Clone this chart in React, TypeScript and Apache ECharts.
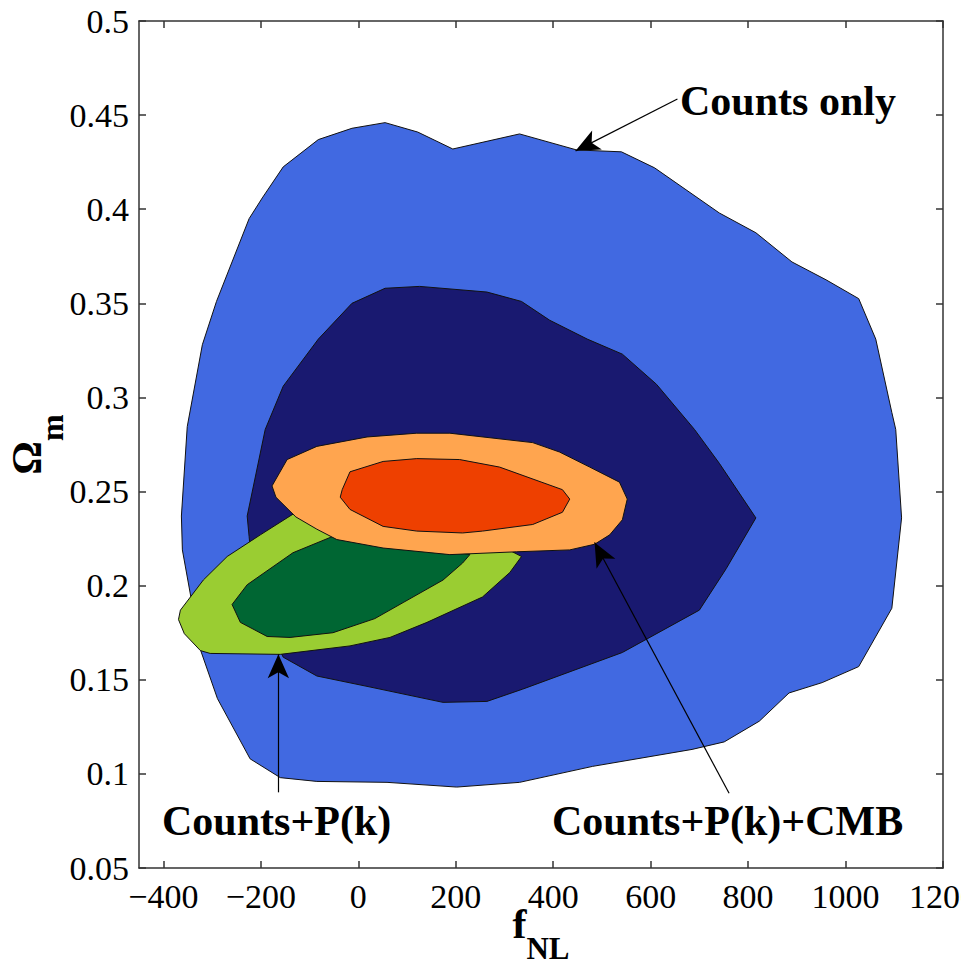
import React, { useEffect, useRef } from 'react';
import * as echarts from 'echarts';

// Axis tick values
const xTicks = [-400, -200, 0, 200, 400, 600, 800, 1000, 1200];
const yTicks = [0.05, 0.1, 0.15, 0.2, 0.25, 0.3, 0.35, 0.4, 0.45, 0.5];

// Contours [fNL, Omega_m]
const countsOnlyOuter = [
  [-197, 0.406], [-154, 0.4225], [-82, 0.437], [-13, 0.443], [55, 0.446], [122, 0.441], [194, 0.432],
  [331, 0.44], [448, 0.4315], [540, 0.4305], [608, 0.422], [741, 0.398], [816, 0.3875], [890, 0.372],
  [960, 0.3625], [1027, 0.3525], [1062, 0.331], [1095, 0.292], [1103, 0.283], [1115, 0.236], [1095, 0.188],
  [1027, 0.157], [952, 0.1485], [884, 0.143], [823, 0.128], [751, 0.117], [685, 0.113], [481, 0.104],
  [331, 0.0955], [202, 0.093], [59, 0.0955], [-85, 0.096], [-160, 0.098], [-222, 0.108], [-289, 0.14],
  [-324, 0.166], [-361, 0.219], [-363, 0.237], [-351, 0.2845], [-320, 0.328], [-291, 0.351], [-224, 0.395],
];
const countsOnlyInner = [
  [-191, 0.283], [-154, 0.306], [-82, 0.331], [-13, 0.35], [55, 0.358], [126, 0.359], [264, 0.356],
  [335, 0.351], [393, 0.341], [470, 0.331], [542, 0.323], [612, 0.307], [690, 0.283], [741, 0.265],
  [816, 0.236], [755, 0.209], [700, 0.187], [542, 0.1645], [337, 0.145], [264, 0.1385], [174, 0.138],
  [18, 0.1465], [-85, 0.152], [-154, 0.162], [-212, 0.193], [-224, 0.226], [-228, 0.237],
];
const pkOuter = [
  [-134, 0.238], [-201, 0.227], [-269, 0.2155], [-318, 0.203], [-365, 0.187], [-369, 0.182], [-357, 0.1745],
  [-324, 0.1655], [-304, 0.164], [-160, 0.1635], [-17, 0.168], [65, 0.1725], [141, 0.1805], [255, 0.194],
  [311, 0.207], [335, 0.2155], [249, 0.227], [85, 0.235],
];
const pkInner = [
  [-54, 0.226], [-134, 0.2175], [-228, 0.2005], [-259, 0.19], [-242, 0.1805], [-187, 0.173], [-140, 0.1725],
  [-52, 0.175], [34, 0.1825], [92, 0.191], [174, 0.203], [214, 0.212], [229, 0.2165], [126, 0.222],
];
const cmbOuter = [
  [-146, 0.267], [-85, 0.274], [18, 0.279], [120, 0.281], [188, 0.281], [358, 0.276], [413, 0.271],
  [475, 0.263], [536, 0.255], [552, 0.246], [542, 0.235], [516, 0.227], [485, 0.222], [434, 0.219],
  [325, 0.218], [188, 0.2165], [51, 0.22], [-44, 0.2245], [-85, 0.23], [-128, 0.2365], [-169, 0.247], [-177, 0.253],
];
const cmbInner = [
  [-33, 0.251], [-17, 0.2605], [51, 0.266], [120, 0.2675], [208, 0.267], [290, 0.263], [419, 0.251],
  [434, 0.246], [419, 0.239], [358, 0.2325], [255, 0.229], [214, 0.228], [120, 0.229], [51, 0.2315],
  [-17, 0.2405], [-37, 0.247],
];

// Annotation arrows: [from, to] in data coords
const arrows = [
  [[655, 0.4586], [446, 0.431]],
  [[-164, 0.0902], [-164, 0.1635]],
  [[761, 0.0897], [485, 0.2229]],
];

const FONT = '"Liberation Serif", "Times New Roman", serif';

function polygonSeries(name: string, pts: number[][], color: string) {
  return {
    name,
    type: 'custom',
    coordinateSystem: 'cartesian2d',
    xAxisIndex: 0,
    yAxisIndex: 0,
    silent: true,
    data: pts,
    encode: { x: 0, y: 1 },
    renderItem: (params: any, api: any) => {
      if (params.dataIndex !== 0) return null;
      return {
        type: 'polygon',
        shape: { points: pts.map((p) => api.coord(p)) },
        style: { fill: color, stroke: '#111', lineWidth: 1 },
      };
    },
  };
}

export default function App() {
  const ref = useRef<HTMLDivElement>(null);
  useEffect(() => {
    document.body.style.margin = '0';
    const chart = echarts.init(ref.current!, null, { renderer: 'svg' });
    const axisLine = { show: true, onZero: false, lineStyle: { color: '#333', width: 1.5 } };
    const tickStyle = { color: '#333', width: 1.5 };
    const xFmt = (v: number) => String(v).replace('-', '\u2212');
    const yFmt = (v: number) => String(parseFloat(Number(v).toFixed(2)));
    chart.setOption({
      animation: false,
      backgroundColor: '#fff',
      grid: { left: 139, top: 21, right: 18, bottom: 97, containLabel: false, outerBoundsMode: 'none' },
      xAxis: [
        {
          type: 'value', min: -450, max: 1200, position: 'bottom',
          axisLine, splitLine: { show: false },
          axisTick: { show: true, inside: true, length: 7, customValues: xTicks, lineStyle: tickStyle },
          axisLabel: { customValues: xTicks, formatter: xFmt, fontSize: 34, fontFamily: FONT, color: '#000', margin: 11, hideOverlap: false },
          name: '{f|f}{s|NL}', nameLocation: 'middle', nameGap: 35, nameMoveOverlap: false,
          nameTextStyle: {
            rich: {
              f: { fontSize: 42, fontWeight: 'bold', fontFamily: FONT, color: '#000', verticalAlign: 'top', lineHeight: 42 },
              s: { fontSize: 31, fontWeight: 'bold', fontFamily: FONT, color: '#000', verticalAlign: 'top', lineHeight: 31, padding: [30, 0, 0, 0] },
            },
          },
        },
        {
          type: 'value', min: -450, max: 1200, position: 'top',
          axisLine, splitLine: { show: false },
          axisTick: { show: true, inside: true, length: 7, customValues: xTicks, lineStyle: tickStyle },
          axisLabel: { show: false },
        },
      ],
      yAxis: [
        {
          type: 'value', min: 0.05, max: 0.5, position: 'left',
          axisLine, splitLine: { show: false },
          axisTick: { show: true, inside: true, length: 7, customValues: yTicks, lineStyle: tickStyle },
          axisLabel: { customValues: yTicks, formatter: yFmt, fontSize: 34, fontFamily: FONT, color: '#000', margin: 10 },
          name: '{f|\u03A9}{s|m}', nameLocation: 'middle', nameGap: 91, nameRotate: 90, nameMoveOverlap: false,
          nameTextStyle: {
            rich: {
              f: { fontSize: 42, fontWeight: 'bold', fontFamily: FONT, color: '#000', verticalAlign: 'top', lineHeight: 42 },
              s: { fontSize: 32, fontWeight: 'bold', fontFamily: FONT, color: '#000', verticalAlign: 'top', lineHeight: 32, padding: [30, 0, 0, 0] },
            },
          },
        },
        {
          type: 'value', min: 0.05, max: 0.5, position: 'right',
          axisLine, splitLine: { show: false },
          axisTick: { show: true, inside: true, length: 7, customValues: yTicks, lineStyle: tickStyle },
          axisLabel: { show: false },
        },
      ],
      series: [
        polygonSeries('Counts only 95%', countsOnlyOuter, '#4169E1'),
        polygonSeries('Counts only 68%', countsOnlyInner, '#191970'),
        polygonSeries('Counts+P(k) 95%', pkOuter, '#9ACD32'),
        polygonSeries('Counts+P(k) 68%', pkInner, '#006633'),
        polygonSeries('Counts+P(k)+CMB 95%', cmbOuter, '#FFA54F'),
        polygonSeries('Counts+P(k)+CMB 68%', cmbInner, '#EE4000'),
        {
          type: 'scatter', data: [], silent: true,
          markLine: {
            silent: true,
            symbol: ['none', 'arrow'],
            symbolSize: [16, 24],
            label: { show: false },
            lineStyle: { color: '#000', width: 1.2, type: 'solid' },
            data: arrows.map(([a, b]) => [{ coord: a }, { coord: b }]),
          },
        },
      ],
      graphic: [
        { type: 'text', x: 680, y: 101, silent: true, style: { text: 'Counts only', fontSize: 42, fontWeight: 'bold', fontFamily: FONT, fill: '#000', align: 'left', verticalAlign: 'middle' } },
        { type: 'text', x: 162, y: 821, silent: true, style: { text: 'Counts+P(k)', fontSize: 42, fontWeight: 'bold', fontFamily: FONT, fill: '#000', align: 'left', verticalAlign: 'middle' } },
        { type: 'text', x: 552, y: 821, silent: true, style: { text: 'Counts+P(k)+CMB', fontSize: 42, fontWeight: 'bold', fontFamily: FONT, fill: '#000', align: 'left', verticalAlign: 'middle' } },
      ],
    });
    return () => chart.dispose();
  }, []);
  return <div ref={ref} style={{ width: 961, height: 965, overflow: 'hidden' }} />;
}
